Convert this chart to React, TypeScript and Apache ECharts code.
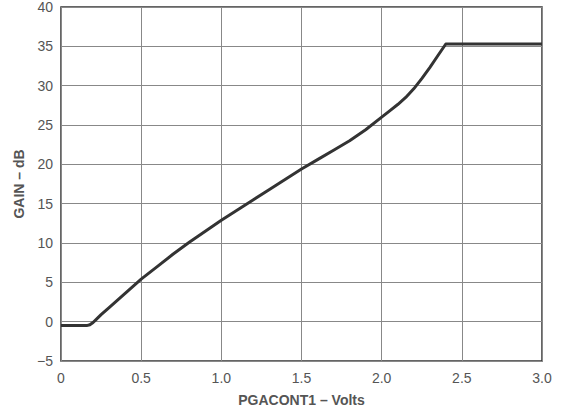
import React, { useEffect, useRef } from "react";
import * as echarts from "echarts";

const volts = [0, 0.1, 0.16, 0.18, 0.2, 0.22, 0.25, 0.3, 0.4, 0.5, 0.6, 0.7, 0.8, 0.9, 1.0, 1.1, 1.2, 1.3, 1.4, 1.5, 1.6, 1.7, 1.8, 1.9, 2.0, 2.05, 2.1, 2.15, 2.2, 2.25, 2.3, 2.35, 2.4, 3.0];
const gainDb = [-0.5, -0.5, -0.5, -0.4, -0.1, 0.3, 0.9, 1.8, 3.6, 5.4, 7.0, 8.6, 10.1, 11.5, 12.9, 14.2, 15.5, 16.8, 18.1, 19.4, 20.6, 21.8, 23.0, 24.4, 26.0, 26.8, 27.6, 28.5, 29.6, 30.9, 32.3, 33.8, 35.3, 35.3];

const xTitle = "PGACONT1 – Volts";
const yTitle = "GAIN – dB";

export default function App() {
  const ref = useRef<HTMLDivElement>(null);
  useEffect(() => {
    const chart = echarts.init(ref.current!, null, { renderer: "svg" });
    const labelColor = "#555";
    const font = "'Liberation Sans', Arial, sans-serif";
    chart.setOption({
      animation: false,
      backgroundColor: "#fff",
      grid: {
        left: 61,
        right: 22,
        top: 7,
        bottom: 49,
        show: true,
        borderColor: "#333",
        borderWidth: 1.5,
        backgroundColor: "transparent",
      },
      xAxis: {
        type: "value",
        min: 0,
        max: 3,
        interval: 0.5,
        name: xTitle,
        nameLocation: "middle",
        nameGap: 32,
        nameTextStyle: { color: labelColor, fontSize: 14, fontWeight: "bold", fontFamily: font },
        axisLine: { show: false },
        axisTick: { show: false },
        axisLabel: {
          color: labelColor,
          fontSize: 14,
          fontFamily: font,
          margin: 10,
          formatter: (v: number) => (v === 0 ? "0" : v.toFixed(1)),
        },
        splitLine: { show: true, lineStyle: { color: "#888", width: 1 } },
      },
      yAxis: {
        type: "value",
        min: -5,
        max: 40,
        interval: 5,
        name: yTitle,
        nameLocation: "middle",
        nameGap: 35,
        nameTextStyle: { color: labelColor, fontSize: 14, fontWeight: "bold", fontFamily: font },
        axisLine: { show: false },
        axisTick: { show: false },
        axisLabel: {
          color: labelColor,
          fontSize: 14,
          fontFamily: font,
          margin: 8,
          formatter: (v: number) => (v < 0 ? "−" + Math.abs(v) : String(v)),
        },
        splitLine: { show: true, lineStyle: { color: "#888", width: 1 } },
      },
      series: [
        {
          type: "line",
          data: volts.map((v, i) => [v, gainDb[i]]),
          showSymbol: false,
          smooth: false,
          lineStyle: { color: "#333", width: 3, join: "round" },
        },
      ],
    });
    return () => chart.dispose();
  }, []);
  return (
    <div
      ref={ref}
      style={{ position: "absolute", left: 0, top: 0, width: 564, height: 412 }}
    />
  );
}
